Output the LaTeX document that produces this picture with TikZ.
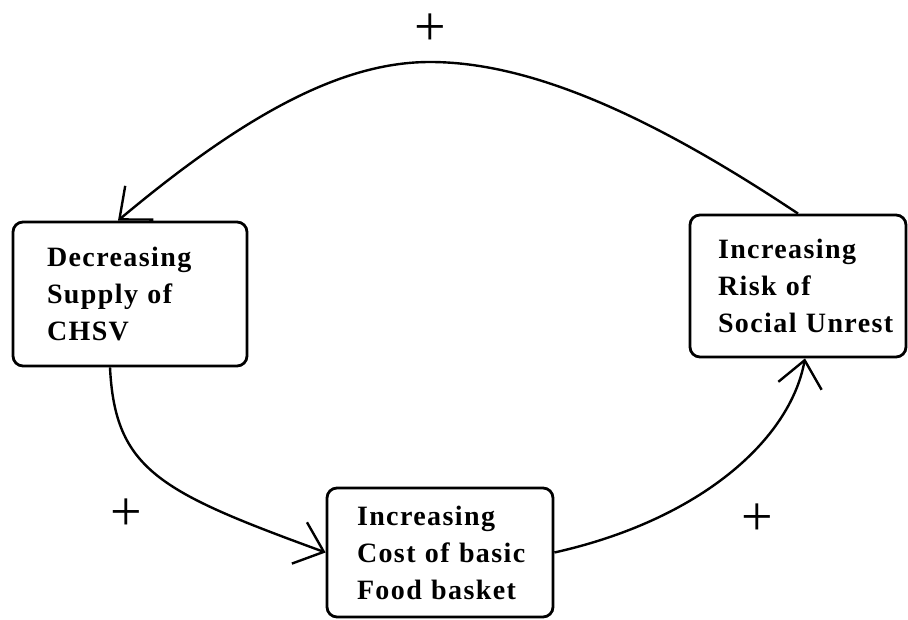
\documentclass[tikz,border=0pt]{standalone}
\usepackage{fontspec}
\setmainfont{Liberation Serif}
\newfontfamily\boxfont{Liberation Serif}[LetterSpace=5]
\usetikzlibrary{arrows.meta,calc}
\begin{document}
\begin{tikzpicture}[x=1pt,y=-1pt,
  box/.style={draw, line width=2.8pt, rounded corners=10pt, align=left,
    font=\boxfont\bfseries\fontsize{28}{37}\selectfont, inner sep=0pt},
  conn/.style={line width=2.4pt, -{Straight Barb[length=26pt,width=44pt]}},
  plussign/.style={font=\fontsize{56}{56}\selectfont, inner sep=0pt}]
\fill[white] (0,0) rectangle (908,620);
\useasboundingbox (0,0) rectangle (908,620);
\node[box, minimum width=234pt, minimum height=144pt, text width=166pt] (b1) at (130,294)
  {\mbox{Decreasing}\\\mbox{Supply of}\\\mbox{CHSV}};
\node[box, minimum width=216pt, minimum height=142pt, text width=160pt] (b2) at (798,286)
  {\mbox{Increasing}\\\mbox{Risk of}\\\mbox{Social Unrest}};
\node[box, minimum width=226pt, minimum height=129pt, text width=166pt] (b3) at (440,552.5)
  {\mbox{Increasing}\\\mbox{Cost of basic}\\\mbox{Food basket}};
\draw[conn] (b2.north) .. controls (650,115) and (530,62) .. (430,62)
  .. controls (345,62) and (250,110) .. ($(b1.north)+(-12,0)$);
\draw[conn] ($(b1.south)+(-20,0)$) .. controls (115,470) and (160,492) .. (b3.west);
\draw[conn] (b3.east) .. controls (700,520) and (790,440) .. ($(b2.south)+(7,0)$);
\node[plussign] (p1) at (430,30) {+};
\node[plussign] (p2) at (126,515) {+};
\node[plussign] (p3) at (757,520) {+};
\end{tikzpicture}
\end{document}
